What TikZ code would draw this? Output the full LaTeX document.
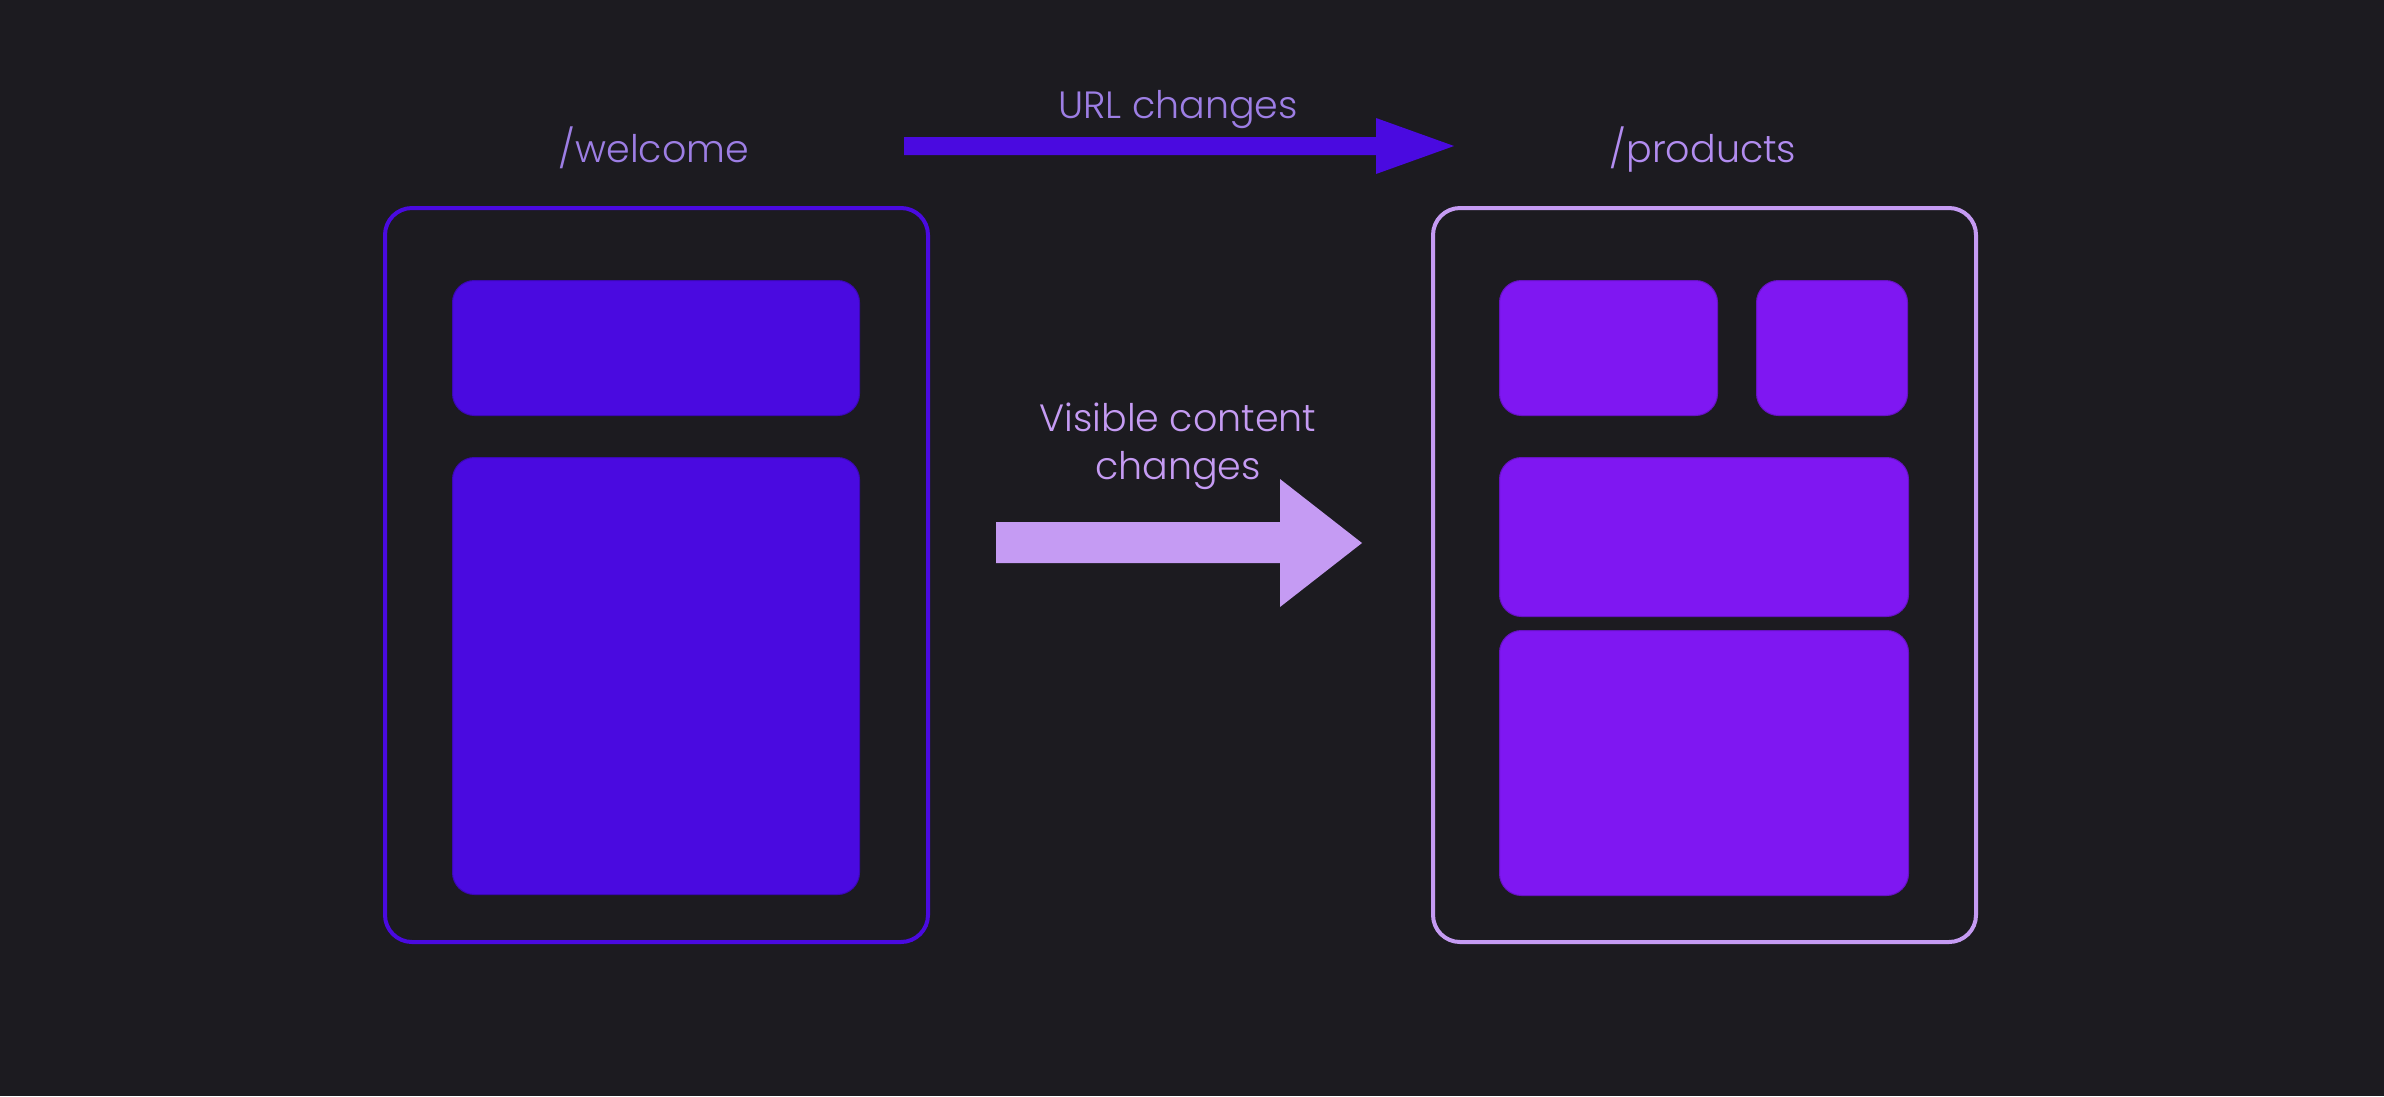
\documentclass[tikz,border=0pt]{standalone}
\usepackage{fontspec}
\setmainfont{Poppins Light}
\definecolor{bg}{RGB}{28,27,32}
\definecolor{deepblue}{RGB}{74,10,224}
\definecolor{violet}{RGB}{127,23,242}
\definecolor{lav}{RGB}{197,155,243}
\definecolor{txtA}{RGB}{157,126,228}
\definecolor{txtB}{RGB}{178,140,240}
\begin{document}
\begin{tikzpicture}[x=1pt,y=-1pt,
  frame/.style={draw,line width=4pt,rounded corners=27pt,anchor=north west,inner sep=0pt},
  block/.style={rounded corners=22pt,anchor=north west,inner sep=0pt,draw,line width=1pt},
  lbl/.style={anchor=base,inner sep=0pt,font=\fontsize{38}{46}\selectfont}]
\fill[bg] (0,0) rectangle (2384,1096);
\useasboundingbox (0,0) rectangle (2384,1096);
% left page
\node[frame,draw=deepblue,minimum width=543pt,minimum height=734pt] (lframe) at (383,206) {};
\node[block,fill=deepblue,draw=deepblue!80!black,minimum width=407pt,minimum height=135pt] (lhead) at (452,280) {};
\node[block,fill=deepblue,draw=deepblue!80!black,minimum width=407pt,minimum height=437pt] (lbody) at (452,457) {};
% right page
\node[frame,draw=lav,minimum width=543pt,minimum height=734pt] (rframe) at (1431,206) {};
\node[block,fill=violet,draw=violet!80!black,minimum width=218pt,minimum height=135pt] (rtl) at (1499,280) {};
\node[block,fill=violet,draw=violet!80!black,minimum width=151pt,minimum height=135pt] (rtr) at (1756,280) {};
\node[block,fill=violet,draw=violet!80!black,minimum width=409pt,minimum height=159pt] (rmid) at (1499,457) {};
\node[block,fill=violet,draw=violet!80!black,minimum width=409pt,minimum height=265pt] (rbot) at (1499,630) {};
% labels
\node[lbl,text=txtA] (wl) at (654,162) {/welcome};
\node[lbl,text=txtB] (pl) at (1703,162) {/products};
\node[lbl,text=txtA] (url) at (1178,118) {URL changes};
\node[lbl,text=lav] (vis1) at (1178,431) {Visible content};
\node[lbl,text=lav] (vis2) at (1178,479) {changes};
% URL arrow
\coordinate (ua) at (904,146);
\coordinate (ub) at (1454,146);
\fill[deepblue] (904,137) -- (1376,137) -- (1376,118) -- (ub) -- (1376,174) -- (1376,155) -- (904,155) -- cycle;
% content arrow
\coordinate (ca) at (996,543);
\coordinate (cb) at (1362,543);
\fill[lav] (996,522) -- (1280,522) -- (1280,479) -- (cb) -- (1280,607) -- (1280,563) -- (996,563) -- cycle;
\end{tikzpicture}
\end{document}
